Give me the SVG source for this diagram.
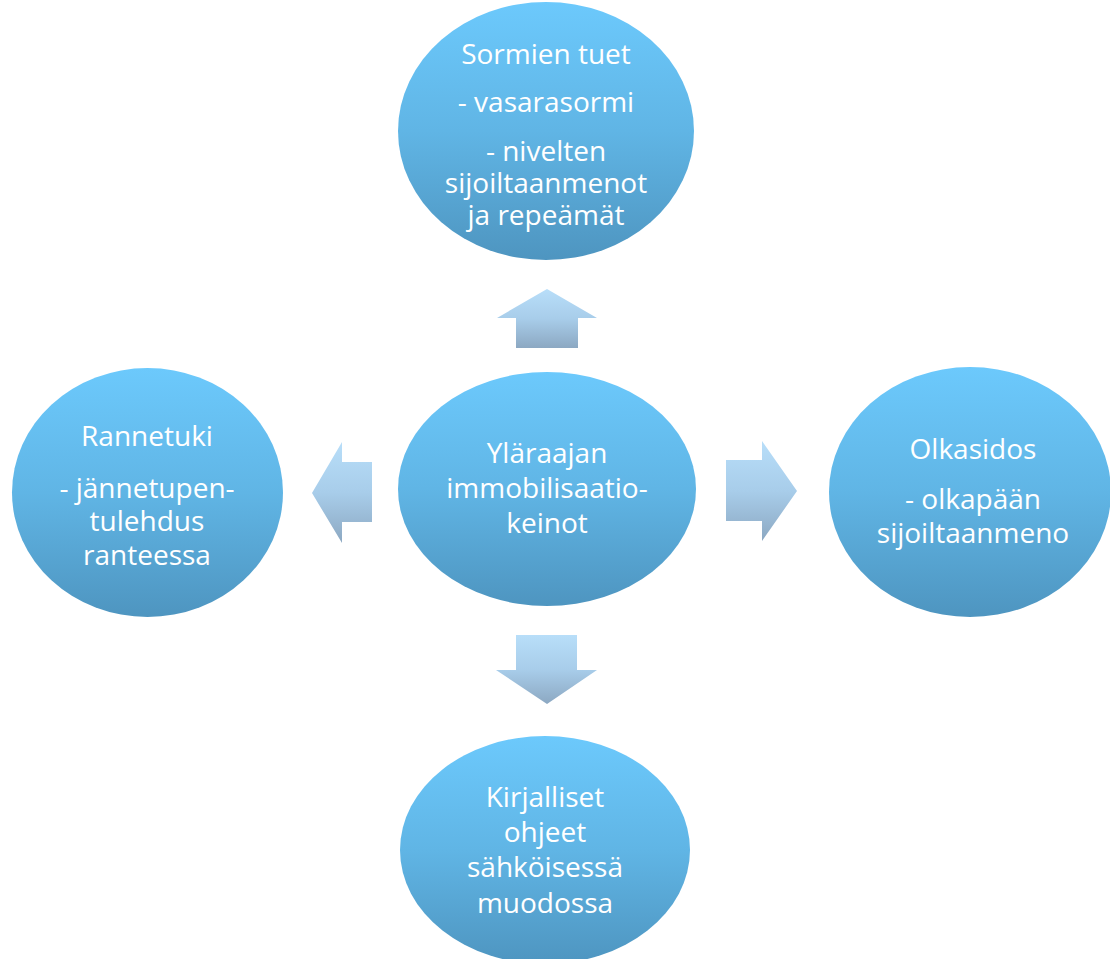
<svg xmlns="http://www.w3.org/2000/svg" width="1110" height="959" viewBox="0 0 1110 959">
<defs>
<linearGradient id="eg" x1="0" y1="0" x2="0" y2="1">
<stop offset="0" stop-color="#6CC9FC"/>
<stop offset="0.5" stop-color="#60B5E5"/>
<stop offset="1" stop-color="#4E95C0"/>
</linearGradient>
<linearGradient id="ag" x1="0" y1="0" x2="0" y2="1">
<stop offset="0" stop-color="#B8DEF9"/>
<stop offset="0.5" stop-color="#A8CDEA"/>
<stop offset="1" stop-color="#8CA8C2"/>
</linearGradient>
<style>
.node ellipse{fill:url(#eg);}
.node text{font-family:"Open Sans","Noto Sans",sans-serif;font-size:28px;fill:#ffffff;text-anchor:middle;}
.arrow{fill:url(#ag);}
</style>
</defs>
<rect width="1110" height="959" fill="#ffffff"/>
<g id="connectors">
<polygon class="arrow" points="547,289 597,318 578,318 578,348 516,348 516,318 497,318"/>
<polygon class="arrow" points="312,493 342,442 342,462 372,462 372,522 342,522 342,543"/>
<polygon class="arrow" points="797,491 762,441 762,460 726,460 726,521 762,521 762,541"/>
<polygon class="arrow" points="516,635 577,635 577,670 597,670 547,704 496,670 516,670"/>
</g>
<g id="node-top" class="node">
<ellipse cx="546" cy="131" rx="148" ry="129"/>
<text x="546" y="64">Sormien tuet</text>
<text x="546" y="112">- vasarasormi</text>
<text x="546" y="161">- nivelten</text>
<text x="546" y="193">sijoiltaanmenot</text>
<text x="546" y="225">ja repeämät</text>
</g>
<g id="node-center" class="node">
<ellipse cx="547" cy="489" rx="149" ry="117"/>
<text x="547" y="463">Yläraajan</text>
<text x="547" y="498">immobilisaatio-</text>
<text x="547" y="533">keinot</text>
</g>
<g id="node-left" class="node">
<ellipse cx="147.5" cy="492.5" rx="135.5" ry="124.5"/>
<text x="147" y="446">Rannetuki</text>
<text x="147" y="498">- jännetupen-</text>
<text x="147" y="531">tulehdus</text>
<text x="147" y="565">ranteessa</text>
</g>
<g id="node-right" class="node">
<ellipse cx="970" cy="492" rx="141" ry="125"/>
<text x="973" y="459">Olkasidos</text>
<text x="973" y="509">- olkapään</text>
<text x="973" y="543">sijoiltaanmeno</text>
</g>
<g id="node-bottom" class="node">
<ellipse cx="545" cy="850" rx="145" ry="114"/>
<text x="545" y="807">Kirjalliset</text>
<text x="545" y="842">ohjeet</text>
<text x="545" y="877">sähköisessä</text>
<text x="545" y="913">muodossa</text>
</g>
</svg>
